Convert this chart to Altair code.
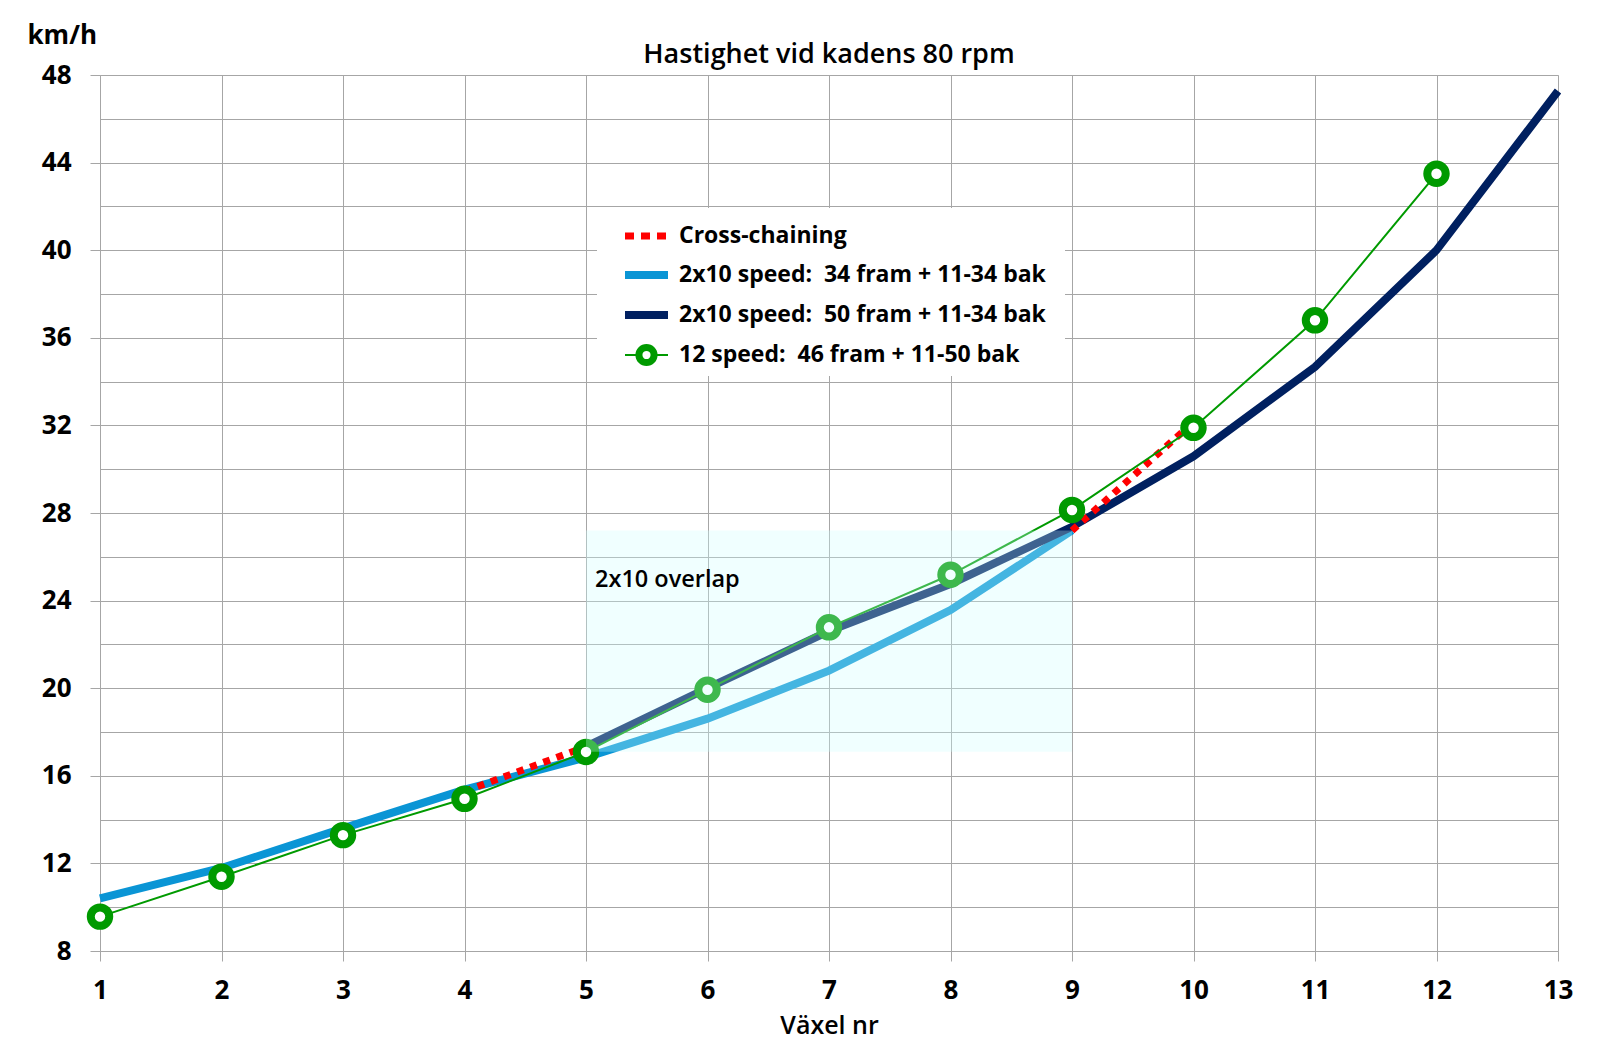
import altair as alt
import pandas as pd

# ---- data ----
gear_light = [1, 2, 3, 4, 5, 6, 7, 8, 9]
speed_light = [10.40, 11.79, 13.60, 15.37, 16.84, 18.61, 20.80, 23.57, 27.20]

gear_dark = [5, 6, 7, 8, 9, 10, 11, 12, 13]
speed_dark = [17.33, 20.00, 22.61, 24.76, 27.37, 30.59, 34.67, 40.00, 47.27]

gear_green = [1, 2, 3, 4, 5, 6, 7, 8, 9, 10, 11, 12]
speed_green = [9.57, 11.39, 13.29, 14.95, 17.09, 19.93, 22.78, 25.18, 28.14, 31.89, 36.80, 43.49]

cross_segment = [1, 1, 2, 2]
gear_cross = [4, 5, 9, 10]
speed_cross = [15.29, 17.33, 27.20, 32.15]

overlap_gear = [5, 9]
overlap_speed = [17.1, 27.2]

legend_labels = [
    "Cross-chaining",
    "2x10 speed:\u00a0 34 fram + 11-34 bak",
    "2x10 speed:\u00a0 50 fram + 11-34 bak",
    "12 speed:\u00a0 46 fram + 11-50 bak",
]

title_text = "Hastighet vid kadens 80 rpm"
x_title = "Växel nr"
y_title = "km/h"
overlap_label = "2x10 overlap"

# ---- colours ----
C_LIGHT = "#0A95D5"
C_DARK = "#002060"
C_GREEN = "#009A00"
C_RED = "#FF0000"
C_GRID = "#A6A6A6"
FONT = "Open Sans"

df_light = pd.DataFrame({"gear": gear_light, "speed": speed_light})
df_dark = pd.DataFrame({"gear": gear_dark, "speed": speed_dark})
df_green = pd.DataFrame({"gear": gear_green, "speed": speed_green})
df_cross = pd.DataFrame({"gear": gear_cross, "speed": speed_cross, "seg": cross_segment})
df_overlap = pd.DataFrame({"x": [overlap_gear[0]], "x2": [overlap_gear[1]],
                           "y": [overlap_speed[0]], "y2": [overlap_speed[1]]})
df_overlap_text = pd.DataFrame({"x": [overlap_gear[0]], "y": [24.6], "t": [overlap_label]})
one = pd.DataFrame({"a": [0]})

x_scale = alt.Scale(domain=[1, 13], nice=False, zero=False)
y_scale = alt.Scale(domain=[8, 48], nice=False, zero=False)

x_axis = alt.Axis(
    values=list(range(1, 14)), format="d",
    grid=True, gridColor=C_GRID, gridWidth=1,
    domainColor=C_GRID, tickColor=C_GRID, tickSize=10,
    labelFont=FONT, labelFontSize=26, labelFontWeight="bold", labelColor="black",
    labelPadding=16, labelFlush=False,
    title=x_title, titleFont=FONT, titleFontSize=25, titleFontWeight=600,
    titleColor="black", titleBaseline="alphabetic", titleY=82,
)
y_axis = alt.Axis(
    values=list(range(8, 49, 2)),
    labelExpr="datum.value % 4 === 0 ? datum.label : ''",
    tickOpacity={"condition": {"test": "datum.value % 4 === 0", "value": 1}, "value": 0},
    grid=True, gridColor=C_GRID, gridWidth=1,
    domainColor=C_GRID, tickColor=C_GRID, tickSize=10,
    labelFont=FONT, labelFontSize=26, labelFontWeight="bold", labelColor="black",
    labelPadding=19, labelFlush=False,
    title=y_title, titleFont=FONT, titleFontSize=26, titleFontWeight="bold",
    titleColor="black", titleAngle=0, titleAlign="left", titleBaseline="alphabetic",
    titleX=-73, titleY=-32,
)

X = alt.X("gear:Q", scale=x_scale, axis=x_axis)
Y = alt.Y("speed:Q", scale=y_scale, axis=y_axis)

light = alt.Chart(df_light).mark_line(color=C_LIGHT, strokeWidth=8).encode(x=X, y=Y)
dark = alt.Chart(df_dark).mark_line(color=C_DARK, strokeWidth=8).encode(x="gear:Q", y="speed:Q")
cross = alt.Chart(df_cross).mark_line(color=C_RED, strokeWidth=7, strokeDash=[7, 7]).encode(
    x="gear:Q", y="speed:Q", detail="seg:N")
green_line = alt.Chart(df_green).mark_line(color=C_GREEN, strokeWidth=2).encode(x="gear:Q", y="speed:Q")
green_pts = alt.Chart(df_green).mark_point(
    shape="circle", filled=True, fill="white", stroke=C_GREEN, strokeWidth=8, size=340, opacity=1
).encode(x="gear:Q", y="speed:Q")

overlap = alt.Chart(df_overlap).mark_rect(color="#CCFFFF", opacity=0.3).encode(
    x="x:Q", x2="x2:Q", y="y:Q", y2="y2:Q")
overlap_txt = alt.Chart(df_overlap_text).mark_text(
    align="left", baseline="alphabetic", dx=9, font=FONT, fontSize=23.5, fontWeight=600, color="black"
).encode(x="x:Q", y="y:Q", text="t:N")

# ---- chart title (as text, placed above the plot) ----
title_mark = alt.Chart(one).mark_text(
    align="center", baseline="alphabetic", font=FONT, fontSize=27, fontWeight=600,
    color="black", text=title_text
).encode(x=alt.value(729), y=alt.value(-12))

# ---- legend (drawn manually) ----
LX0, LX1 = 497, 965
LY0, LY1 = 133, 301
rows = [161, 200, 240, 280]
SX0, SX1 = 525, 568
TX = 579

legend_layers = [
    alt.Chart(one).mark_rect(color="white", opacity=1).encode(
        x=alt.value(LX0), x2=alt.value(LX1), y=alt.value(LY0), y2=alt.value(LY1)),
    alt.Chart(one).mark_rule(color=C_RED, strokeWidth=7, strokeDash=[9, 7]).encode(
        x=alt.value(SX0), x2=alt.value(SX1 + 2), y=alt.value(rows[0])),
    alt.Chart(one).mark_rule(color=C_LIGHT, strokeWidth=8).encode(
        x=alt.value(SX0), x2=alt.value(SX1), y=alt.value(rows[1])),
    alt.Chart(one).mark_rule(color=C_DARK, strokeWidth=8).encode(
        x=alt.value(SX0), x2=alt.value(SX1), y=alt.value(rows[2])),
    alt.Chart(one).mark_rule(color=C_GREEN, strokeWidth=2).encode(
        x=alt.value(SX0), x2=alt.value(SX1), y=alt.value(rows[3])),
    alt.Chart(one).mark_point(shape="circle", filled=True, fill="white", stroke=C_GREEN,
                              strokeWidth=7, size=230, opacity=1).encode(
        x=alt.value((SX0 + SX1) / 2), y=alt.value(rows[3])),
]
for i, lab in enumerate(legend_labels):
    legend_layers.append(
        alt.Chart(one).mark_text(align="left", baseline="middle", font=FONT, fontSize=23,
                                 fontWeight="bold", color="black", text=lab).encode(
            x=alt.value(TX), y=alt.value(rows[i]))
    )

chart = alt.layer(
    light, dark, cross, green_line, green_pts, overlap, overlap_txt, title_mark, *legend_layers
).properties(
    width=1458, height=876,
    autosize=alt.AutoSizeParams(type="none"),
    padding={"left": 92, "top": 67, "right": 30, "bottom": 92},
).configure_view(stroke=None).configure(background="white")

chart.save("out.html", embed_options={"renderer": "svg", "actions": False})
